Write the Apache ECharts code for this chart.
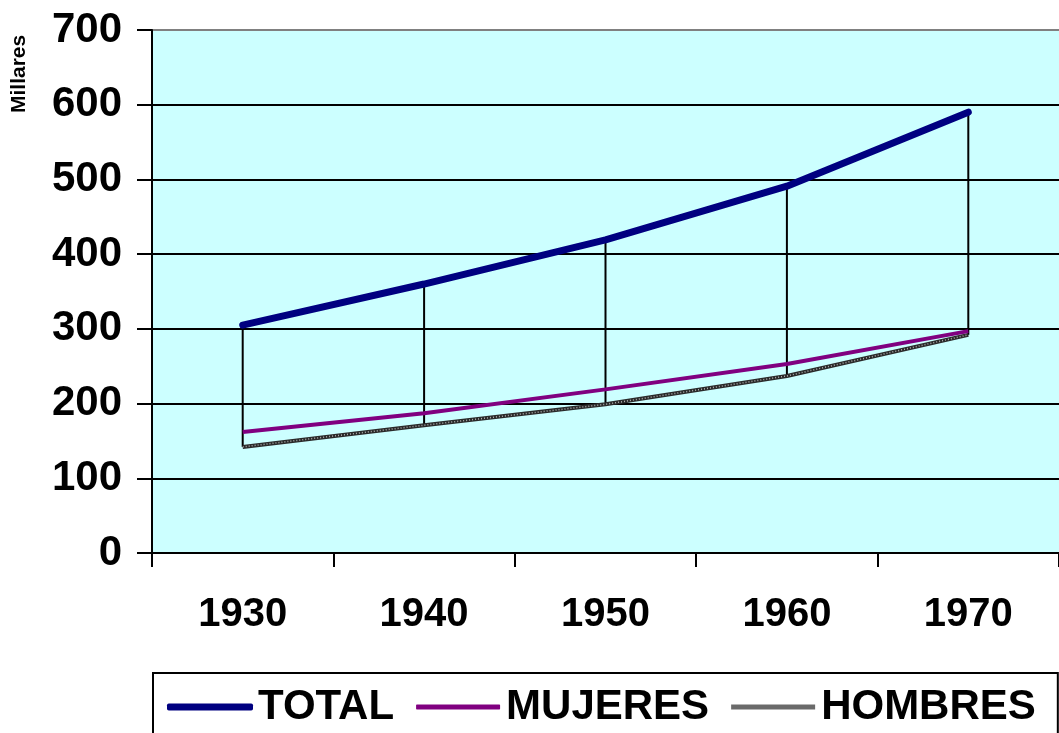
<!DOCTYPE html>
<html>
<head>
<meta charset="utf-8">
<script src="https://cdn.jsdelivr.net/npm/echarts@6/dist/echarts.min.js"></script>
<style>html,body{margin:0;padding:0;background:#fff;}#c{width:1059px;height:733px;}</style>
</head>
<body>
<div id="c"></div>
<script>
const categories = ['1930', '1940', '1950', '1960', '1970'];
const total = [305, 360, 419, 491, 590];
const mujeres = [162, 187, 219, 253, 297];
const hombres = [142, 171, 199, 237, 292];
const yTicks = [0, 100, 200, 300, 400, 500, 600, 700];

const chart = echarts.init(document.getElementById('c'));
const font = 'Liberation Sans, Arial, sans-serif';
const dropData = categories.map((c, i) => [i, total[i], hombres[i]]);

chart.setOption({
  animation: false,
  backgroundColor: '#fff',
  grid: {left: 152, top: 30, width: 910, bottom: 180, show: true, backgroundColor: '#CCFFFF', borderWidth: 0},
  graphic: [{
    type: 'text', x: 9, y: 113, rotation: Math.PI / 2,
    style: {text: 'Millares', font: 'bold 21px ' + font, fill: '#000'}
  }],
  legend: {
    left: 153, top: 673,
    padding: [13, 22, 20, 14],
    borderColor: '#000', borderWidth: 2,
    itemWidth: 86, itemHeight: 7, itemGap: 20,
    textStyle: {fontFamily: font, fontWeight: 'bold', fontSize: 42, color: '#000'},
    data: [
      {name: 'TOTAL', icon: 'roundRect', itemStyle: {color: '#000080', borderWidth: 0}},
      {name: 'MUJERES', icon: 'roundRect', itemStyle: {color: '#800080', borderColor: '#fff', borderWidth: 2}},
      {name: 'HOMBRES', icon: 'rect', itemStyle: {color: '#6a6a6a', borderColor: '#fff', borderWidth: 2}}
    ]
  },
  xAxis: {
    type: 'category', data: categories, boundaryGap: true,
    axisLine: {lineStyle: {color: '#000', width: 2}},
    axisTick: {show: true, length: 14, interval: 0, lineStyle: {color: '#000', width: 2}},
    axisLabel: {margin: 42, fontFamily: font, fontWeight: 'bold', fontSize: 40, color: '#000'}
  },
  yAxis: {
    type: 'value', min: 0, max: 700, interval: 100,
    axisLine: {show: true, lineStyle: {color: '#000', width: 2}},
    axisTick: {show: true, length: 15, lineStyle: {color: '#000', width: 2}},
    axisLabel: {margin: 30, fontFamily: font, fontWeight: 'bold', fontSize: 42, color: '#000',
      formatter: v => yTicks.includes(v) ? String(v) : ''},
    splitLine: {show: true, lineStyle: {color: ['#000', '#000', '#000', '#000', '#000', '#000', '#000', '#808080'], width: 2}}
  },
  series: [
    {
      type: 'custom', name: 'drop', silent: true, z: 1,
      data: dropData,
      renderItem: (params, api) => {
        const a = api.coord([api.value(0), api.value(1)]);
        const b = api.coord([api.value(0), api.value(2)]);
        return {type: 'line', shape: {x1: a[0], y1: a[1], x2: b[0], y2: b[1]}, style: {stroke: '#000', lineWidth: 2}};
      }
    },
    {name: 'HOMBRES', type: 'line', data: hombres, symbol: 'none', z: 3,
      lineStyle: {color: '#2a2a2a', width: 4}, itemStyle: {color: '#6a6a6a'}},
    {name: 'HOMBRES_pattern', type: 'line', data: hombres, symbol: 'none', z: 3, silent: true,
      lineStyle: {color: '#b0b0b0', width: 1.5, type: [1, 2]}},
    {name: 'MUJERES', type: 'line', data: mujeres, symbol: 'none', z: 4,
      lineStyle: {color: '#800080', width: 4}, itemStyle: {color: '#800080'}},
    {name: 'TOTAL', type: 'line', data: total, symbol: 'none', z: 5,
      lineStyle: {color: '#000080', width: 7, cap: 'round'}, itemStyle: {color: '#000080'}}
  ]
});
</script>
</body>
</html>
